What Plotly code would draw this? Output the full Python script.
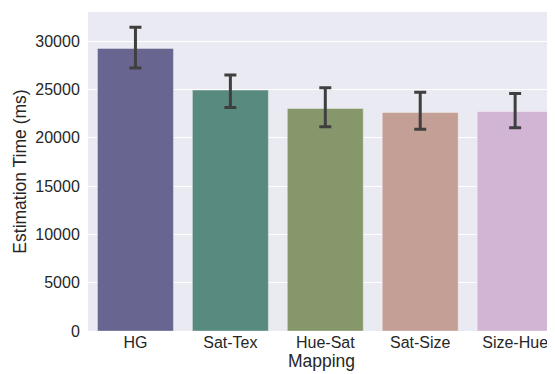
import plotly.graph_objects as go

categories = ["HG", "Sat-Tex", "Hue-Sat", "Sat-Size", "Size-Hue"]
means = [29230, 24920, 23020, 22610, 22710]
ci_high = [31410, 26470, 25160, 24710, 24580]
ci_low = [27200, 23130, 21120, 20880, 21020]
colors = ["#686690", "#588a80", "#86976b", "#c49f96", "#d2b4d5"]
y_ticks = [0, 5000, 10000, 15000, 20000, 25000, 30000]

err_plus = [h - m for h, m in zip(ci_high, means)]
err_minus = [m - l for m, l in zip(means, ci_low)]

fig = go.Figure()
fig.add_trace(go.Bar(
    x=list(range(len(categories))),
    y=means,
    width=0.8,
    marker=dict(color=colors, line=dict(color="rgba(255,255,255,0.35)", width=1)),
    error_y=dict(type="data", symmetric=False, array=err_plus, arrayminus=err_minus,
                 color="#3f3f3f", thickness=3, width=6),
    showlegend=False,
))

# page body has an 8px margin, so the figure is 8px smaller than the window
fig.update_layout(
    width=547, height=366,
    margin=dict(l=80, r=0, t=4, b=43),
    paper_bgcolor="white",
    plot_bgcolor="#EAEAF2",
    font=dict(family="Liberation Sans, Arial, sans-serif", size=16, color="#262626"),
    xaxis=dict(
        tickmode="array",
        tickvals=list(range(len(categories))),
        ticktext=categories,
        range=[-0.5, 4.42],
        showgrid=False, zeroline=False, showline=False,
        ticks="", ticklen=0,
        title=dict(text="Mapping", font=dict(size=17.5), standoff=4),
        tickfont=dict(size=16),
    ),
    yaxis=dict(
        range=[0, 33000],
        tickvals=y_ticks,
        tickformat="d",
        gridcolor="white", gridwidth=1,
        zeroline=False, showline=False,
        ticks="outside", ticklen=4, tickcolor="rgba(0,0,0,0)",
        title=dict(text="Estimation Time (ms)", font=dict(size=17.5), standoff=4),
        tickfont=dict(size=16),
    ),
)

fig.write_html("out.html")
